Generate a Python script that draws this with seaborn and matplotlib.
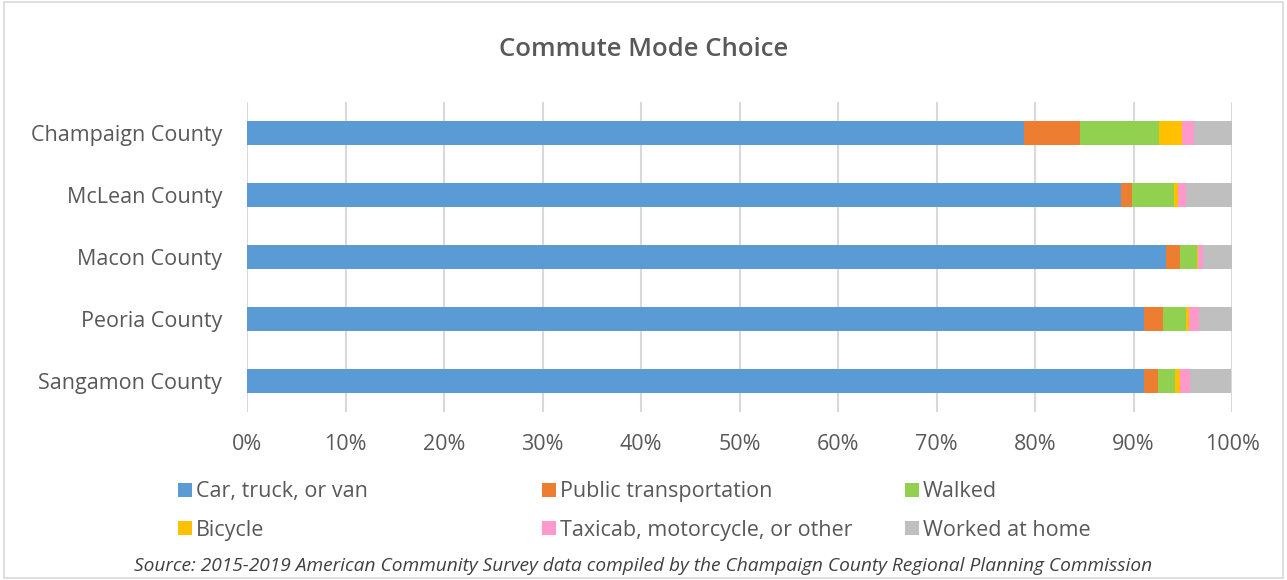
import matplotlib.pyplot as plt
import seaborn as sns
import pandas as pd
from matplotlib.patches import Rectangle, Patch

counties = ['Champaign County', 'McLean County', 'Macon County', 'Peoria County', 'Sangamon County']
modes = ['Car, truck, or van', 'Public transportation', 'Walked',
         'Bicycle', 'Taxicab, motorcycle, or other', 'Worked at home']

car = [78.9, 88.7, 93.3, 91.1, 91.1]
public = [5.7, 1.1, 1.4, 1.9, 1.4]
walked = [8.0, 4.3, 1.7, 2.3, 1.7]
bicycle = [2.3, 0.4, 0.1, 0.3, 0.5]
taxi = [1.2, 0.8, 0.6, 1.0, 1.0]
home = [3.9, 4.7, 2.9, 3.4, 4.2]

colors = ['#5B9BD5', '#ED7D31', '#92D050', '#FFC000', '#FF99CC', '#BFBFBF']
text_col = '#595959'

sns.set_style('white')
plt.rcParams['font.family'] = ['Open Sans', 'DejaVu Sans']

df = pd.DataFrame({'county': counties, modes[0]: car, modes[1]: public, modes[2]: walked,
                   modes[3]: bicycle, modes[4]: taxi, modes[5]: home})
cum = df[modes].cumsum(axis=1)
cum['county'] = df['county']

fig = plt.figure(figsize=(12.87, 5.8), dpi=100)
ax = fig.add_axes([247 / 1287, 1 - 412 / 580, (1232 - 247) / 1287, 310 / 580])

# stacked bars: draw cumulative totals from the right-most segment down
for mode, col in reversed(list(zip(modes, colors))):
    sns.barplot(data=cum, x=mode, y='county', color=col, width=0.4,
                saturation=1, orient='h', ax=ax, edgecolor='none', zorder=2)

ax.set_xlim(0, 100)
ax.set_ylim(4.5, -0.5)
ax.set_xticks(range(0, 101, 10))
ax.set_xticklabels([f'{v}%' for v in range(0, 101, 10)])
ax.xaxis.grid(True, color='#D9D9D9', linewidth=1.5, zorder=0)
ax.set_axisbelow(True)
for s in ax.spines.values():
    s.set_visible(False)
ax.set_xlabel('')
ax.set_ylabel('')
ax.tick_params(axis='both', length=0, labelsize=15.5, colors=text_col)
ax.tick_params(axis='y', pad=18)
ax.tick_params(axis='x', pad=16)

fig.text(0.5, 1 - 50 / 580, 'Commute Mode Choice', ha='center', va='center',
         fontsize=18.5, color=text_col, fontweight='semibold')

handles = [Patch(facecolor=c, edgecolor='none') for c in colors]
col_x = [167, 531, 894]
for k in range(3):
    idx = [k, k + 3]
    fig.legend([handles[i] for i in idx], [modes[i] for i in idx], ncol=1,
               loc='center left', bbox_to_anchor=(col_x[k] / 1287, 1 - 511 / 580),
               frameon=False, fontsize=15.5, labelcolor=text_col,
               handlelength=0.65, handleheight=0.65, handletextpad=0.2,
               labelspacing=0.8, borderpad=0)

fig.text(0.5, 1 - 566 / 580,
         'Source: 2015-2019 American Community Survey data compiled by the Champaign County Regional Planning Commission',
         ha='center', va='center', fontsize=13.8, style='italic', color='#404040')

fig.patches.append(Rectangle((0.003, 0.003), 0.994, 0.994, transform=fig.transFigure,
                             fill=False, edgecolor='#D9D9D9', linewidth=1.2))

fig.savefig('out.png', dpi=100)
